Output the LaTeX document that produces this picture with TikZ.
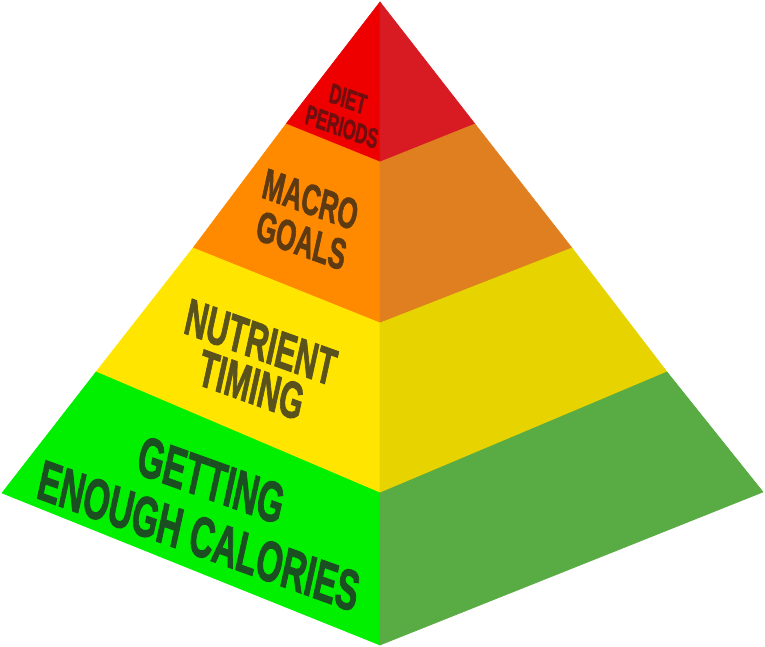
\documentclass[tikz,border=0pt]{standalone}
\usepackage{fontspec}
\setmainfont{Liberation Sans}
\newfontfamily\pyrfont{Liberation Sans}[BoldFeatures={FakeBold=2}]
\usepackage{tikz}
\definecolor{redL}{RGB}{238,0,0}
\definecolor{redR}{RGB}{216,27,35}
\definecolor{orangeL}{RGB}{255,138,0}
\definecolor{orangeR}{RGB}{224,127,31}
\definecolor{yellowL}{RGB}{255,229,0}
\definecolor{yellowR}{RGB}{230,211,0}
\definecolor{greenL}{RGB}{0,240,0}
\definecolor{greenR}{RGB}{89,171,67}
\definecolor{redT}{RGB}{110,14,14}
\definecolor{orangeT}{RGB}{94,58,18}
\definecolor{yellowT}{RGB}{90,82,28}
\definecolor{greenT}{RGB}{27,79,34}
\tikzset{
  face/.style={fill=#1, draw=#1, line width=0.6pt, line join=round},
  pyrtext/.style={transform shape, inner sep=0pt, align=center}
}

\begin{document}
\begin{tikzpicture}[x=1pt,y=-1pt]
			%%%%% START %%%%%
			\useasboundingbox (0,0) rectangle (765,647);
			
			% top band
			\draw[face=redL] (380,2) -- (286,124) -- (380,162) -- cycle;
			\draw[face=redR] (380,2) -- (475,124) -- (380,162) -- cycle;
			
			% second band
			\draw[face=orangeL] (286,124) -- (193,248) -- (380,323) -- (380,162) -- cycle;
			\draw[face=orangeR] (475,124) -- (572,248) -- (380,323) -- (380,162) -- cycle;
			
			% third band
			\draw[face=yellowL] (193,248) -- (96,372) -- (380,493) -- (380,323) -- cycle;
			\draw[face=yellowR] (572,248) -- (667,372) -- (380,493) -- (380,323) -- cycle;
			
			% base band
			\draw[face=greenL] (96,372) -- (2,493) -- (380,645) -- (380,493) -- cycle;
			\draw[face=greenR] (667,372) -- (763,492) -- (380,645) -- (380,493) -- cycle;
			
			% labels on the left face
			\begin{scope}[shift={(345,113)}, cm={0.59,-0.2124,0.22,1,(0,0)}]
				\node[pyrtext, text=redT, font=\pyrfont\bfseries\fontsize{27}{28}\selectfont] (diet) at (0,0) {DIET\\PERIODS};
			\end{scope}
			\begin{scope}[shift={(306,220)}, cm={0.59,-0.2124,0.22,1,(0,0)}]
				\node[pyrtext, text=orangeT, font=\pyrfont\bfseries\fontsize{42}{41}\selectfont] (macro) at (0,0) {MACRO\\GOALS};
			\end{scope}
			\begin{scope}[shift={(256,364)}, cm={0.59,-0.2124,0.22,1,(0,0)}]
				\node[pyrtext, text=yellowT, font=\pyrfont\bfseries\fontsize{50}{43}\selectfont] (timing) at (0,0) {NUTRIENT\\TIMING};
			\end{scope}
			\begin{scope}[shift={(205,508)}, cm={0.59,-0.2124,0.22,1,(0,0)}]
				\node[pyrtext, text=greenT, font=\pyrfont\bfseries\fontsize{55}{56}\selectfont] (calories) at (0,0) {GETTING\\ENOUGH CALORIES};
			\end{scope}
			%%%%% END %%%%%
		\end{tikzpicture}
\end{document}
